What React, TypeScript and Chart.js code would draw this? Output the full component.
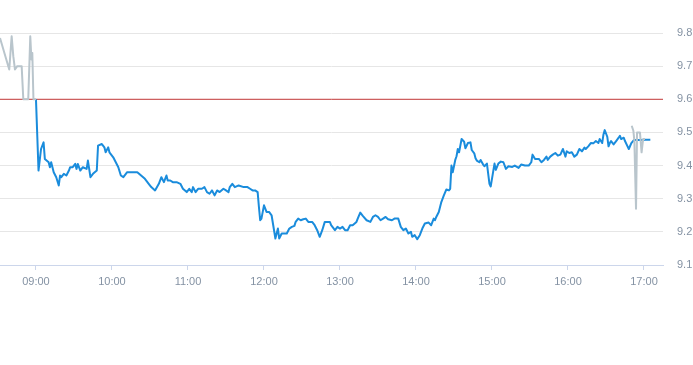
import { useEffect, useRef } from 'react';
import { Chart, registerables } from 'chart.js';

Chart.register(...registerables);

// Pre-market (grey)
const PRE_TIMES = ['08:31:36', '08:38:54', '08:40:48', '08:42:06', '08:43:24', '08:45:12', '08:48:42', '08:50:00', '08:53:54', '08:55:30', '08:56:24', '08:57:06', '08:58:00', '09:00:00'];
const PRE_VALUES = [9.785, 9.69, 9.79, 9.73, 9.69, 9.70, 9.70, 9.60, 9.60, 9.79, 9.72, 9.74, 9.60, 9.60];

// Regular session (blue)
const MAIN_TIMES = [
  '09:00', '09:02', '09:04', '09:06', '09:07', '09:10', '09:11', '09:12', '09:14', '09:16',
  '09:18', '09:19', '09:20', '09:22', '09:24', '09:26', '09:27', '09:29', '09:31', '09:32',
  '09:33', '09:35', '09:37', '09:40', '09:41', '09:43', '09:45', '09:48', '09:49', '09:52',
  '09:54', '09:55', '09:57', '09:58', '10:01', '10:03', '10:05', '10:07', '10:09', '10:12',
  '10:16', '10:20', '10:23', '10:26', '10:29', '10:31', '10:34', '10:37', '10:39', '10:41',
  '10:43', '10:44', '10:46', '10:48', '10:51', '10:54', '10:56', '10:59', '11:01', '11:03',
  '11:04', '11:06', '11:08', '11:11', '11:13', '11:15', '11:17', '11:19', '11:21', '11:23',
  '11:25', '11:28', '11:30', '11:32', '11:33', '11:35', '11:37', '11:40', '11:44', '11:47',
  '11:49', '11:51', '11:53', '11:55', '11:56', '11:57', '11:58', '12:00', '12:02', '12:04',
  '12:06', '12:09', '12:11', '12:12', '12:14', '12:16', '12:18', '12:20', '12:22', '12:24',
  '12:25', '12:27', '12:29', '12:31', '12:33', '12:35', '12:38', '12:40', '12:42', '12:44',
  '12:46', '12:48', '12:52', '12:53', '12:56', '12:58', '13:00', '13:02', '13:04', '13:06',
  '13:08', '13:10', '13:13', '13:14', '13:16', '13:18', '13:21', '13:24', '13:26', '13:28',
  '13:30', '13:32', '13:34', '13:36', '13:38', '13:41', '13:43', '13:46', '13:48', '13:50',
  '13:52', '13:54', '13:56', '13:57', '13:59', '14:01', '14:03', '14:05', '14:07', '14:10',
  '14:12', '14:14', '14:15', '14:16', '14:18', '14:20', '14:22', '14:24', '14:26', '14:27',
  '14:28', '14:29', '14:31', '14:32', '14:33', '14:34', '14:36', '14:38', '14:39', '14:41',
  '14:43', '14:44', '14:46', '14:47', '14:48', '14:50', '14:51', '14:53', '14:54', '14:56',
  '14:58', '14:59', '15:01', '15:02', '15:03', '15:05', '15:07', '15:09', '15:11', '15:13',
  '15:16', '15:18', '15:21', '15:23', '15:26', '15:29', '15:31', '15:32', '15:34', '15:37',
  '15:39', '15:41', '15:43', '15:44', '15:46', '15:48', '15:50', '15:52', '15:54', '15:56',
  '15:58', '15:59', '16:01', '16:03', '16:05', '16:07', '16:09', '16:11', '16:13', '16:14',
  '16:16', '16:18', '16:20', '16:22', '16:24', '16:25', '16:27', '16:28', '16:29', '16:31',
  '16:32', '16:33', '16:34', '16:36', '16:38', '16:40', '16:41', '16:42', '16:44', '16:45',
  '16:47', '16:48', '16:50', '16:52', '16:54', '16:57', '17:01', '17:05',
];
const MAIN_VALUES = [
  9.60, 9.385, 9.45, 9.47, 9.42, 9.41, 9.395, 9.41, 9.38, 9.365,
  9.34, 9.37, 9.365, 9.375, 9.37, 9.385, 9.395, 9.395, 9.405, 9.39,
  9.405, 9.385, 9.395, 9.39, 9.415, 9.365, 9.375, 9.385, 9.46, 9.465,
  9.455, 9.44, 9.455, 9.44, 9.425, 9.41, 9.395, 9.37, 9.365, 9.38,
  9.38, 9.38, 9.37, 9.36, 9.345, 9.335, 9.325, 9.345, 9.365, 9.35,
  9.37, 9.355, 9.355, 9.35, 9.35, 9.345, 9.33, 9.32, 9.33, 9.32,
  9.335, 9.32, 9.33, 9.33, 9.335, 9.32, 9.315, 9.325, 9.31, 9.325,
  9.32, 9.33, 9.325, 9.32, 9.335, 9.345, 9.335, 9.34, 9.335, 9.335,
  9.33, 9.325, 9.325, 9.32, 9.275, 9.235, 9.24, 9.28, 9.26, 9.26,
  9.25, 9.18, 9.21, 9.18, 9.195, 9.195, 9.195, 9.21, 9.215, 9.218,
  9.23, 9.24, 9.235, 9.238, 9.24, 9.23, 9.23, 9.22, 9.205, 9.185,
  9.205, 9.23, 9.23, 9.22, 9.205, 9.215, 9.21, 9.215, 9.205, 9.205,
  9.22, 9.22, 9.23, 9.24, 9.258, 9.248, 9.235, 9.23, 9.245, 9.25,
  9.245, 9.235, 9.24, 9.245, 9.238, 9.235, 9.24, 9.24, 9.215, 9.205,
  9.21, 9.195, 9.20, 9.185, 9.19, 9.178, 9.19, 9.21, 9.225, 9.228,
  9.22, 9.24, 9.235, 9.245, 9.26, 9.29, 9.31, 9.328, 9.325, 9.33,
  9.40, 9.38, 9.417, 9.428, 9.45, 9.44, 9.48, 9.472, 9.452, 9.468,
  9.47, 9.447, 9.437, 9.422, 9.415, 9.41, 9.417, 9.403, 9.398, 9.406,
  9.345, 9.337, 9.383, 9.406, 9.387, 9.406, 9.412, 9.41, 9.39, 9.398,
  9.396, 9.40, 9.393, 9.403, 9.40, 9.40, 9.41, 9.433, 9.42, 9.42,
  9.41, 9.417, 9.427, 9.417, 9.427, 9.433, 9.438, 9.43, 9.433, 9.45,
  9.427, 9.443, 9.438, 9.44, 9.427, 9.433, 9.45, 9.443, 9.454, 9.45,
  9.458, 9.468, 9.467, 9.474, 9.468, 9.48, 9.468, 9.494, 9.507, 9.487,
  9.458, 9.468, 9.474, 9.464, 9.474, 9.484, 9.49, 9.48, 9.484, 9.474,
  9.458, 9.45, 9.468, 9.477, 9.477, 9.477, 9.478, 9.478,
];

// Post-market (grey)
const POST_TIMES = ['16:50:18', '16:51:36', '16:52:24', '16:53:42', '16:54:30', '16:56:48', '16:58:06', '16:58:54', '16:59:24', '17:00:48'];
const POST_VALUES = [9.52, 9.505, 9.475, 9.27, 9.50, 9.50, 9.44, 9.467, 9.48, 9.48];

const PREV_CLOSE = 9.6;
const HOUR_TICKS = ['09:00', '10:00', '11:00', '12:00', '13:00', '14:00', '15:00', '16:00', '17:00'];
const PRICE_TICKS = [9.1, 9.2, 9.3, 9.4, 9.5, 9.6, 9.7, 9.8];
const X_START = '08:31:36';
const X_END = '17:15:00';

const toMin = (s: string) => {
  const [h, m, sec] = s.split(':');
  return Number(h) * 60 + Number(m) + (sec ? Number(sec) / 60 : 0);
};
const fmtMin = (v: number) => {
  const h = Math.floor(v / 60);
  const m = Math.round(v - h * 60);
  return String(h).padStart(2, '0') + ':' + String(m).padStart(2, '0');
};
const pts = (times: string[], vals: number[]) => times.map((t, i) => ({ x: toMin(t), y: vals[i] }));

const LABEL_COLOR = '#8492a3';
const FONT = { family: '"Liberation Sans", Arial, sans-serif', size: 11 };

export default function App() {
  const ref = useRef<HTMLCanvasElement | null>(null);
  useEffect(() => {
    if (!ref.current) return;
    const xMin = toMin(X_START);
    const xMax = toMin(X_END);
    const chart = new Chart(ref.current, {
      type: 'line',
      data: {
        datasets: [
          { data: pts(POST_TIMES, POST_VALUES), borderColor: '#b9c5cc', borderWidth: 2, pointRadius: 0, tension: 0, order: 0, borderJoinStyle: 'round' },
          { data: pts(PRE_TIMES, PRE_VALUES), borderColor: '#b9c5cc', borderWidth: 2, pointRadius: 0, tension: 0, order: 0, borderJoinStyle: 'round' },
          { data: pts(MAIN_TIMES, MAIN_VALUES), borderColor: '#1a8cdc', borderWidth: 2, pointRadius: 0, tension: 0, order: 1, borderJoinStyle: 'round' },
          { data: [{ x: xMin, y: PREV_CLOSE }, { x: xMax, y: PREV_CLOSE }], borderColor: '#c63b3b', borderWidth: 1, pointRadius: 0, order: 2 },
        ],
      },
      options: {
        animation: false,
        responsive: false,
        devicePixelRatio: 1,
        layout: { padding: { top: 33, left: 0, right: 0, bottom: 0 } },
        plugins: { legend: { display: false }, tooltip: { enabled: false } },
        scales: {
          x: {
            type: 'linear',
            min: xMin,
            max: xMax,
            afterBuildTicks: (s: any) => { s.ticks = HOUR_TICKS.map((h) => ({ value: toMin(h) })); },
            afterFit: (s: any) => { s.height = 35; },
            ticks: { callback: (v: any) => fmtMin(Number(v)), color: LABEL_COLOR, font: FONT, padding: 5, maxRotation: 0, autoSkip: false },
            grid: { drawOnChartArea: false, drawTicks: true, tickLength: 5, color: '#ccd6eb' },
            border: { display: true, color: '#ccd6eb' },
          },
          y: {
            position: 'right',
            min: 9.1,
            max: 9.8,
            afterBuildTicks: (s: any) => { s.ticks = PRICE_TICKS.map((v) => ({ value: v })); },
            afterFit: (s: any) => { s.width = 30; },
            ticks: { callback: (v: any) => Number(v).toFixed(1), color: LABEL_COLOR, font: FONT, padding: 14 },
            grid: { color: '#e6e6e6', drawTicks: false },
            border: { display: false },
          },
        },
      },
    } as any);
    return () => chart.destroy();
  }, []);
  return (
    <div style={{ position: 'fixed', left: 0, top: 0, width: 693, height: 300 }}>
      <canvas ref={ref} width={693} height={300} />
    </div>
  );
}
